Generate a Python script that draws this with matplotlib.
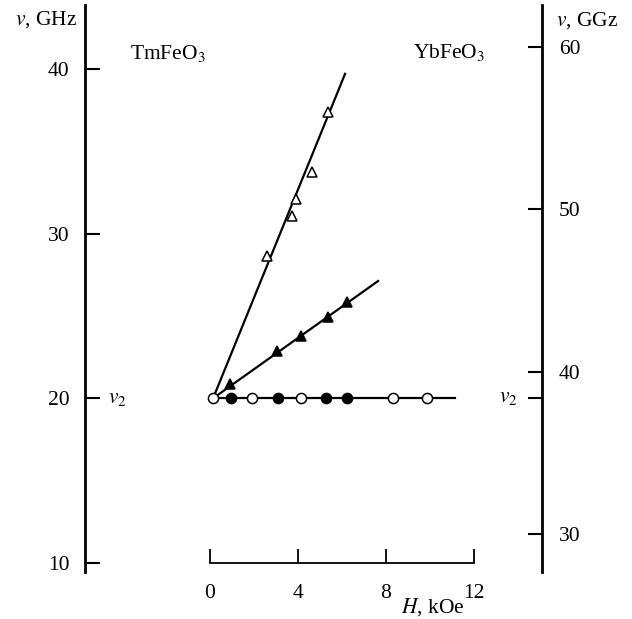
import matplotlib
matplotlib.use("Agg")
import matplotlib.pyplot as plt

plt.rcParams['font.family'] = ['Liberation Serif', 'DejaVu Serif']
plt.rcParams['mathtext.fontset'] = 'stix'

# ---- data ----
# horizontal branch at nu2 (both crystals)
H_open_circ = [0.12, 1.9, 4.12, 8.33, 9.85]
nu_open_circ = [20.0, 20.0, 20.0, 20.0, 20.0]
H_fill_circ = [0.95, 3.1, 5.27, 6.24]
nu_fill_circ = [20.0, 20.0, 20.0, 20.0]
H_flat_fit = [0.0, 11.15]
nu_flat_fit = [20.0, 20.0]

# steep branch (open triangles)
H_open_tri = [2.58, 3.71, 3.91, 4.62, 5.35]
nu_open_tri = [28.64, 31.07, 32.08, 33.76, 37.40]
H_steep_fit = [0.14, 6.14]
nu_steep_fit = [20.0, 39.7]

# medium branch (filled triangles)
H_fill_tri = [0.91, 3.06, 4.12, 5.35, 6.21]
nu_fill_tri = [20.87, 22.89, 23.78, 24.96, 25.87]
H_mid_fit = [0.14, 7.64]
nu_mid_fit = [20.0, 27.12]

left_ticks = [10, 20, 30, 40]
right_ticks = [30, 40, 50, 60]
x_ticks = [0, 4, 8, 12]
nu2_left = 20.0
nu2_right = 38.4

W, Hpx = 632, 619
fs = 15.5
fig = plt.figure(figsize=(W / 100, Hpx / 100), dpi=100)
# axes box in pixels: left 85, right 542, top 5, bottom 572
ax = fig.add_axes([85 / W, 1 - 572 / Hpx, (542 - 85) / W, (572 - 5) / Hpx])
ax.set_xlim(-125 / 22, (542 - 210) / 22)
ax.set_ylim(10 - 9 / 16.47, 10 + 558 / 16.47)

ax.patch.set_alpha(0)
for s in ['top', 'right']:
    ax.spines[s].set_visible(False)
ax.spines['left'].set_linewidth(2.0)
ax.spines['bottom'].set_position(('data', 10))
ax.spines['bottom'].set_bounds(0, 12)
ax.spines['bottom'].set_linewidth(1.3)

ax.set_xticks(x_ticks)
ax.set_xticklabels([str(t) for t in x_ticks])
ax.tick_params(axis='x', direction='in', length=10, width=1.3, pad=15, labelsize=fs)
ax.set_yticks(left_ticks)
ax.set_yticklabels([str(t) for t in left_ticks])
ax.tick_params(axis='y', direction='in', length=11, width=1.5, pad=11, labelsize=fs)

lw = 1.6
ms = 7.3
ax.plot(H_flat_fit, nu_flat_fit, color='black', lw=lw, zorder=2)
ax.plot(H_steep_fit, nu_steep_fit, color='black', lw=lw, zorder=2)
ax.plot(H_mid_fit, nu_mid_fit, color='black', lw=lw, zorder=2)
ax.plot(H_open_circ, nu_open_circ, 'o', ms=ms, mfc='white', mec='black', mew=1.1, zorder=3, clip_on=False)
ax.plot(H_fill_circ, nu_fill_circ, 'o', ms=ms, mfc='black', mec='black', mew=1.1, zorder=3, clip_on=False)
ax.plot(H_open_tri, nu_open_tri, '^', ms=ms, mfc='white', mec='black', mew=1.1, zorder=3)
ax.plot(H_fill_tri, nu_fill_tri, '^', ms=ms, mfc='black', mec='black', mew=1.1, zorder=3)

# right axis
ax2 = ax.twinx()
ax2.set_ylim(30 - 38 / 16.23, 30 + 529 / 16.23)
for s in ['top', 'left', 'bottom']:
    ax2.spines[s].set_visible(False)
ax2.spines['right'].set_linewidth(2.0)
ax2.set_yticks(right_ticks + [nu2_right])
ax2.set_yticklabels([str(t) for t in right_ticks] + [''])
ax2.tick_params(axis='y', direction='in', length=10, width=1.5, pad=12, labelsize=fs)

# texts
ax.text(-125 / 22 + 23 / 22, nu2_left, r'$v_2$', fontsize=fs, ha='left', va='center')
ax2.text(ax.get_xlim()[1] - 24 / 22, nu2_right, r'$v_2$', fontsize=fs, ha='right', va='center',
         transform=ax2.transData)
fig.text(77 / W, 1 - 25 / Hpx, r'$v$, GHz', fontsize=fs, ha='right', va='baseline')
fig.text(556 / W, 1 - 26 / Hpx, r'$v$, GGz', fontsize=fs, ha='left', va='baseline')
fig.text(130 / W, 1 - 59 / Hpx, r'TmFeO$_3$', fontsize=fs, ha='left', va='baseline')
fig.text(413 / W, 1 - 58 / Hpx, r'YbFeO$_3$', fontsize=fs, ha='left', va='baseline')
fig.text(433 / W, 1 - 613 / Hpx, r'$H$, kOe', fontsize=fs, ha='center', va='baseline')

fig.savefig('out.png', dpi=100)
